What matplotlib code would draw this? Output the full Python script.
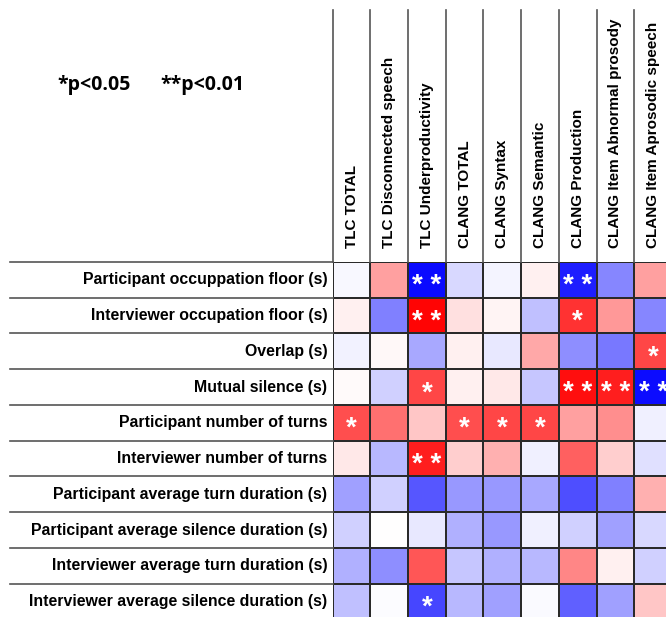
import numpy as np
import matplotlib
matplotlib.use("Agg")
import matplotlib.pyplot as plt
from matplotlib.colors import LinearSegmentedColormap

# rows: conversational measures, cols: clinical scales
ROW_LABELS = [
    "Participant occuppation floor (s)",
    "Interviewer occupation floor (s)",
    "Overlap (s)",
    "Mutual silence (s)",
    "Participant number of turns",
    "Interviewer number of turns",
    "Participant average turn duration (s)",
    "Participant average silence duration (s)",
    "Interviewer average turn duration (s)",
    "Interviewer average silence duration (s)",
]
COL_LABELS = [
    "TLC TOTAL",
    "TLC Disconnected speech",
    "TLC Underproductivity",
    "CLANG TOTAL",
    "CLANG Syntax",
    "CLANG Semantic",
    "CLANG Production",
    "CLANG Item Abnormal prosody",
    "CLANG Item Aprosodic speech",
]

# correlation values (estimated from the colour of each cell)
R_VALUES = np.array([
    [-0.03, 0.37, -0.96, -0.15, -0.04, 0.06, -0.88, -0.47, 0.37],
    [0.06, -0.50, 0.98, 0.12, 0.04, -0.25, 0.80, 0.40, -0.47],
    [-0.05, 0.03, -0.34, 0.06, -0.09, 0.34, -0.44, -0.53, 0.72],
    [0.02, -0.18, 0.72, 0.06, 0.09, -0.22, 0.94, 0.88, -0.95],
    [0.69, 0.56, 0.22, 0.69, 0.72, 0.72, 0.37, 0.44, -0.06],
    [0.09, -0.28, 0.88, 0.19, 0.31, -0.06, 0.62, 0.19, -0.12],
    [-0.37, -0.18, -0.66, -0.40, -0.40, -0.34, -0.69, -0.50, 0.31],
    [-0.18, 0.00, -0.09, -0.31, -0.40, -0.06, -0.18, -0.37, -0.15],
    [-0.31, -0.44, 0.66, -0.22, -0.31, -0.28, 0.47, 0.06, -0.18],
    [-0.25, -0.01, -0.72, -0.28, -0.37, -0.02, -0.62, -0.37, 0.22],
])

# significance marks per cell
STARS = [
    ["", "", "**", "", "", "", "**", "", ""],
    ["", "", "**", "", "", "", "*", "", ""],
    ["", "", "", "", "", "", "", "", "*"],
    ["", "", "*", "", "", "", "**", "**", "**"],
    ["*", "", "", "*", "*", "*", "", "", ""],
    ["", "", "**", "", "", "", "", "", ""],
    ["", "", "", "", "", "", "", "", ""],
    ["", "", "", "", "", "", "", "", ""],
    ["", "", "", "", "", "", "", "", ""],
    ["", "", "*", "", "", "", "", "", ""],
]

FIG_W, FIG_H = 666, 617
X0, Y0 = 332.7, 262.0     # top-left corner of the cell grid (px)
CELL_W, CELL_H = 37.7, 35.75

n_rows, n_cols = R_VALUES.shape

fig = plt.figure(figsize=(FIG_W / 100, FIG_H / 100), dpi=100)
ax = fig.add_axes([
    X0 / FIG_W,
    1 - (Y0 + n_rows * CELL_H) / FIG_H,
    n_cols * CELL_W / FIG_W,
    n_rows * CELL_H / FIG_H,
])

cmap = LinearSegmentedColormap.from_list("blue_white_red", ["#0000ff", "#ffffff", "#ff0000"])
ax.pcolormesh(R_VALUES, cmap=cmap, vmin=-1, vmax=1,
              edgecolors="#2a2a2a", linewidth=1.2)
ax.set_xlim(0, n_cols)
ax.set_ylim(n_rows, 0)
ax.axis("off")

# header lines go up, row lines go left
top_ext = -(Y0 - 10) / CELL_H
left_ext = -(X0 - 10) / CELL_W
for c in range(n_cols + 1):
    ax.plot([c, c], [top_ext, 0], color="#555555", lw=1.2, clip_on=False)
for r in range(n_rows + 1):
    ax.plot([left_ext, 0], [r, r], color="#555555", lw=1.2, clip_on=False)

font = ["Liberation Sans", "DejaVu Sans"]
for r, lab in enumerate(ROW_LABELS):
    ax.text(-5.5 / CELL_W, r + 0.5, lab, ha="right", va="center",
            fontsize=11.4, fontweight="bold", family=font)
for c, lab in enumerate(COL_LABELS):
    ax.text(c + 0.5, -14 / CELL_H, lab, ha="left", va="center", rotation=90,
            rotation_mode="anchor", fontsize=11, fontweight="bold", family=font)

for r in range(n_rows):
    for c in range(n_cols):
        s = STARS[r][c]
        if s:
            ax.text(c + 0.5, r + 0.87, " ".join(s), ha="center", va="baseline",
                    color="white", fontsize=20, fontweight="bold", family=font)

legend_font = ["Open Sans", "DejaVu Sans"]
fig.text(57 / FIG_W, 1 - 85 / FIG_H, "*p<0.05", ha="left", va="center",
         fontsize=14, fontweight="bold", family=legend_font)
fig.text(160 / FIG_W, 1 - 85 / FIG_H, "**p<0.01", ha="left", va="center",
         fontsize=14, fontweight="bold", family=legend_font)

fig.savefig("out.png", dpi=100)
